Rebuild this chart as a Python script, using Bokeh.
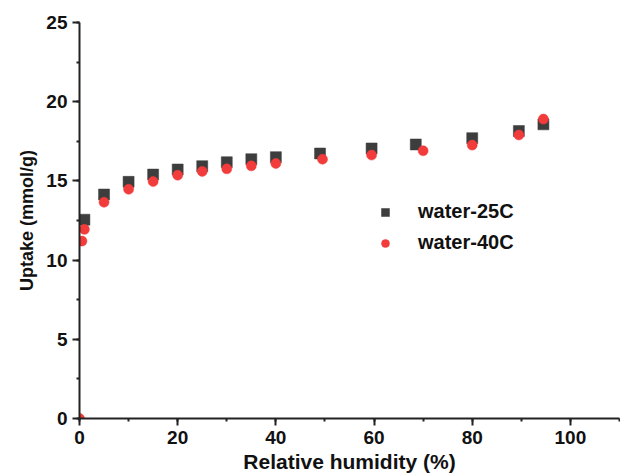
from bokeh.plotting import figure
from bokeh.models import ColumnDataSource, Range1d, SingleIntervalTicker, Legend, LegendItem
from bokeh.embed import file_html
from bokeh.resources import INLINE

# Data
rh_25 = [1, 5, 10, 15, 20, 25, 30, 35, 40, 49, 59.5, 68.5, 80, 89.5, 94.5]
up_25 = [12.55, 14.14, 14.94, 15.4, 15.72, 15.93, 16.18, 16.37, 16.5, 16.73, 17.05, 17.3, 17.7, 18.15, 18.57]

rh_40 = [0, 0.5, 1, 5, 10, 15, 20, 25, 30, 35, 40, 49.5, 59.5, 70, 80, 89.5, 94.5]
up_40 = [0, 11.2, 11.94, 13.65, 14.47, 14.96, 15.36, 15.6, 15.76, 15.95, 16.1, 16.37, 16.63, 16.9, 17.26, 17.9, 18.9]

series_names = ["water-25C", "water-40C"]
x_label = "Relative humidity (%)"
y_label = "Uptake (mmol/g)"

FONT = "Liberation Sans"
AX = "#222222"

p = figure(width=620, height=475, output_backend="svg", toolbar_location=None,
           x_range=Range1d(0, 110), y_range=Range1d(0, 25),
           min_border_left=79, min_border_right=1, min_border_top=22, min_border_bottom=56)
p.outline_line_color = None
p.grid.visible = False
p.background_fill_color = "white"
p.border_fill_color = "white"

src25 = ColumnDataSource(dict(x=rh_25, y=up_25))
src40 = ColumnDataSource(dict(x=rh_40, y=up_40))
r25 = p.scatter("x", "y", source=src25, marker="square", size=11,
                fill_color="#3d3d3d", line_color="#3d3d3d", line_width=0.5)
r40 = p.scatter("x", "y", source=src40, marker="circle", size=10,
                fill_color="#f23b3b", line_color="#f23b3b", line_width=0.5)

p.xaxis.ticker = SingleIntervalTicker(interval=20, num_minor_ticks=2)
p.yaxis.ticker = SingleIntervalTicker(interval=5, num_minor_ticks=2)
p.xaxis.axis_label = x_label
p.yaxis.axis_label = y_label

for ax in (p.xaxis, p.yaxis):
    ax.axis_line_width = 2
    ax.axis_line_color = AX
    ax.major_tick_line_width = 2
    ax.major_tick_line_color = AX
    ax.minor_tick_line_width = 2
    ax.minor_tick_line_color = AX
    ax.major_tick_out = 7
    ax.major_tick_in = 0
    ax.minor_tick_out = 3
    ax.minor_tick_in = 0
    ax.major_label_text_font = FONT
    ax.major_label_text_font_style = "bold"
    ax.major_label_text_font_size = "19px"
    ax.major_label_text_color = "#111111"
    ax.axis_label_text_font = FONT
    ax.axis_label_text_font_style = "bold"
    ax.axis_label_text_color = "#111111"

p.yaxis.major_label_standoff = 5
p.xaxis.major_label_standoff = 5
p.yaxis.axis_label_text_font_size = "18px"
p.xaxis.axis_label_text_font_size = "21px"
p.yaxis.axis_label_standoff = 6
p.xaxis.axis_label_standoff = 3

legend = Legend(items=[LegendItem(label=series_names[0], renderers=[r25]),
                       LegendItem(label=series_names[1], renderers=[r40])],
                location=(296, 164))
legend.border_line_color = None
legend.background_fill_alpha = 0
legend.padding = 0
legend.margin = 0
legend.spacing = 8
legend.glyph_width = 20
legend.glyph_height = 20
legend.label_height = 20
legend.label_standoff = 23
legend.label_text_font = FONT
legend.label_text_font_style = "bold"
legend.label_text_font_size = "20px"
legend.label_text_color = "#111111"
p.add_layout(legend, "center")

open("out.html", "w").write(file_html(p, INLINE))
